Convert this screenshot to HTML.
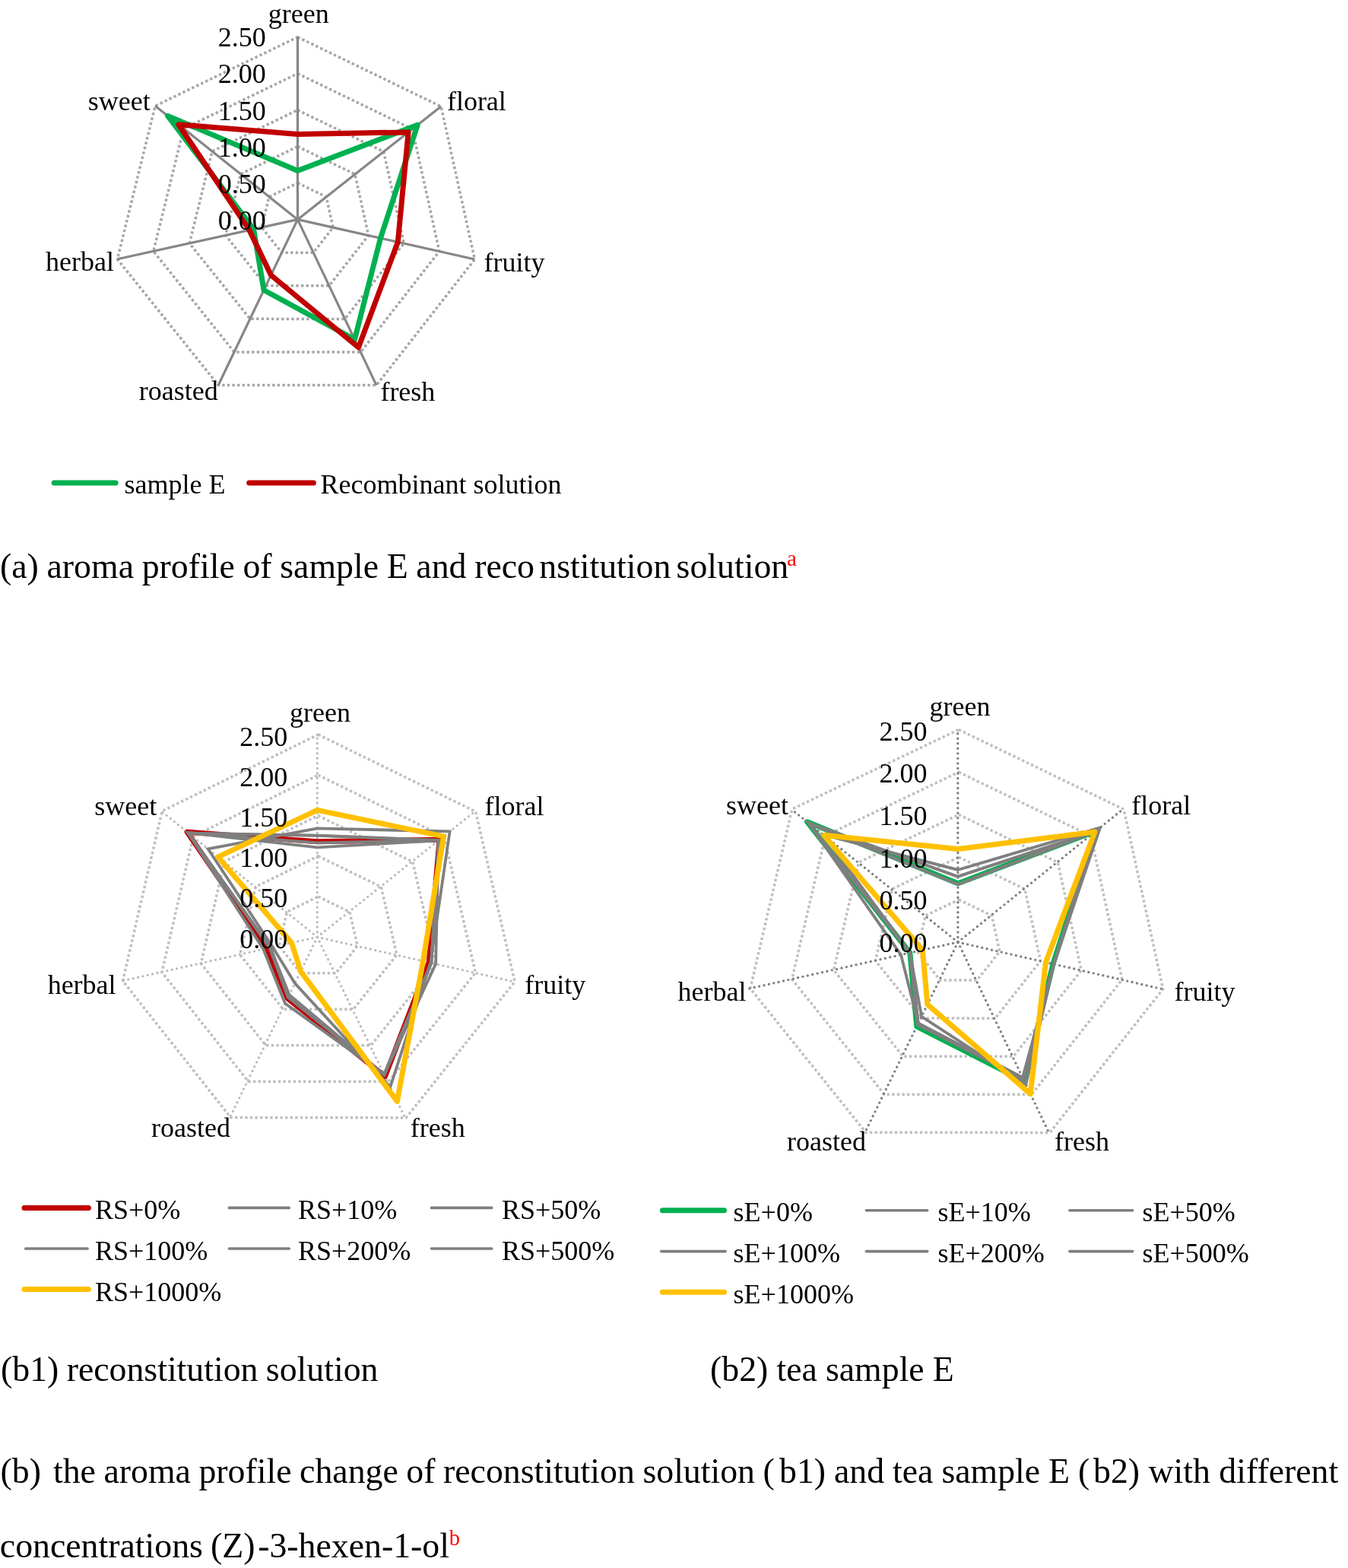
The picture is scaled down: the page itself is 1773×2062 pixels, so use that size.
<!DOCTYPE html>
<html lang="en">
<head>
<meta charset="utf-8">
<title>Aroma profile radar charts</title>
<style>
html,body{margin:0;padding:0;background:#fff;}
body{width:1773px;height:2062px;overflow:hidden;}
svg{display:block;}
svg text{font-family:"Liberation Serif", "Times New Roman", serif;fill:#000;}
</style>
</head>
<body>
<svg width="1773" height="2062" viewBox="0 0 1773 2062">
<rect x="0" y="0" width="1773" height="2062" fill="#ffffff"/>
<g id="chart-a"><polygon points="391.46,240.67 429.19,258.91 438.05,299.11 412.19,332.23 370.60,332.21 344.05,299.07 353.99,258.77" fill="none" stroke="#A6A6A6" stroke-width="3.5" stroke-dasharray="3.4 3.2" stroke-linejoin="miter"/>
<polygon points="391.46,192.70 466.92,229.18 484.64,309.58 432.92,375.82 349.74,375.78 296.64,309.50 316.52,228.90" fill="none" stroke="#A6A6A6" stroke-width="3.5" stroke-dasharray="3.4 3.2" stroke-linejoin="miter"/>
<polygon points="391.46,144.74 504.64,199.46 531.22,320.06 453.64,419.42 328.87,419.36 249.22,319.94 279.04,199.04" fill="none" stroke="#A6A6A6" stroke-width="3.5" stroke-dasharray="3.4 3.2" stroke-linejoin="miter"/>
<polygon points="391.46,96.77 542.37,169.73 577.81,330.53 474.37,463.01 308.01,462.93 201.81,330.37 241.57,169.17" fill="none" stroke="#A6A6A6" stroke-width="3.5" stroke-dasharray="3.4 3.2" stroke-linejoin="miter"/>
<polygon points="391.46,48.80 580.10,140.00 624.40,341.00 495.10,506.60 287.15,506.50 154.40,340.80 204.10,139.30" fill="none" stroke="#A6A6A6" stroke-width="3.5" stroke-dasharray="3.4 3.2" stroke-linejoin="miter"/>
<line x1="391.46" y1="288.64" x2="391.46" y2="48.80" stroke="#868686" stroke-width="3.2"/>
<line x1="391.46" y1="288.64" x2="580.10" y2="140.00" stroke="#868686" stroke-width="3.2"/>
<line x1="391.46" y1="288.64" x2="624.40" y2="341.00" stroke="#868686" stroke-width="3.2"/>
<line x1="391.46" y1="288.64" x2="495.10" y2="506.60" stroke="#868686" stroke-width="3.2"/>
<line x1="391.46" y1="288.64" x2="287.15" y2="506.50" stroke="#868686" stroke-width="3.2"/>
<line x1="391.46" y1="288.64" x2="154.40" y2="340.80" stroke="#868686" stroke-width="3.2"/>
<line x1="391.46" y1="288.64" x2="204.10" y2="139.30" stroke="#868686" stroke-width="3.2"/>
<polygon points="391.46,224.55 549.16,164.38 500.48,313.14 466.50,446.44 347.02,381.45 333.62,301.37 220.59,152.44" fill="none" stroke="#00B050" stroke-width="7" stroke-linejoin="round" stroke-miterlimit="6"/>
<polygon points="391.46,176.39 537.09,173.89 523.30,318.28 471.47,456.91 356.41,361.84 327.93,302.62 234.83,163.79" fill="none" stroke="#C00000" stroke-width="7" stroke-linejoin="round" stroke-miterlimit="6"/>
<text x="349.70" y="301.80" font-size="36" text-anchor="end">0.00</text>
<text x="349.70" y="253.70" font-size="36" text-anchor="end">0.50</text>
<text x="349.70" y="205.60" font-size="36" text-anchor="end">1.00</text>
<text x="349.70" y="157.50" font-size="36" text-anchor="end">1.50</text>
<text x="349.70" y="109.40" font-size="36" text-anchor="end">2.00</text>
<text x="349.70" y="61.30" font-size="36" text-anchor="end">2.50</text>
<text x="392.70" y="29.60" font-size="36" text-anchor="middle">green</text>
<text x="587.90" y="144.90" font-size="36" text-anchor="start">floral</text>
<text x="636.60" y="356.50" font-size="36" text-anchor="start">fruity</text>
<text x="500.40" y="526.70" font-size="36" text-anchor="start">fresh</text>
<text x="286.70" y="526.30" font-size="36" text-anchor="end">roasted</text>
<text x="149.90" y="355.70" font-size="36" text-anchor="end">herbal</text>
<text x="197.70" y="145.20" font-size="36" text-anchor="end">sweet</text><line x1="71.20" y1="635.00" x2="152.10" y2="635.00" stroke="#00B050" stroke-width="7" stroke-linecap="round"/>
<text x="163.50" y="648.70" font-size="36">sample E</text>
<line x1="327.70" y1="635.00" x2="412.40" y2="635.00" stroke="#C00000" stroke-width="7" stroke-linecap="round"/>
<text x="421.60" y="648.70" font-size="36">Recombinant solution</text></g>
<g id="chart-b1"><polygon points="418.50,1179.04 459.92,1199.30 470.22,1244.04 441.62,1279.82 395.50,1279.76 367.10,1243.84 377.44,1199.16" fill="none" stroke="#BFBFBF" stroke-width="3.5" stroke-dasharray="3.4 3.2" stroke-linejoin="miter"/>
<polygon points="418.50,1125.78 501.34,1166.30 521.94,1255.78 464.74,1327.34 372.50,1327.22 315.70,1255.38 336.38,1166.02" fill="none" stroke="#BFBFBF" stroke-width="3.5" stroke-dasharray="3.4 3.2" stroke-linejoin="miter"/>
<polygon points="418.50,1072.52 542.76,1133.30 573.66,1267.52 487.86,1374.86 349.50,1374.68 264.30,1266.92 295.32,1132.88" fill="none" stroke="#BFBFBF" stroke-width="3.5" stroke-dasharray="3.4 3.2" stroke-linejoin="miter"/>
<polygon points="418.50,1019.26 584.18,1100.30 625.38,1279.26 510.98,1422.38 326.50,1422.14 212.90,1278.46 254.26,1099.74" fill="none" stroke="#BFBFBF" stroke-width="3.5" stroke-dasharray="3.4 3.2" stroke-linejoin="miter"/>
<polygon points="418.50,966.00 625.60,1067.30 677.10,1291.00 534.10,1469.90 303.50,1469.60 161.50,1290.00 213.20,1066.60" fill="none" stroke="#BFBFBF" stroke-width="3.5" stroke-dasharray="3.4 3.2" stroke-linejoin="miter"/>
<line x1="417.30" y1="1232.30" x2="417.30" y2="966.00" stroke="#BABABA" stroke-width="3.3" stroke-dasharray="0 6.53" stroke-linecap="round"/>
<line x1="417.30" y1="1232.30" x2="624.40" y2="1067.30" stroke="#BABABA" stroke-width="3.3" stroke-dasharray="0 6.53" stroke-linecap="round"/>
<line x1="417.30" y1="1232.30" x2="675.90" y2="1291.00" stroke="#BABABA" stroke-width="3.3" stroke-dasharray="0 6.53" stroke-linecap="round"/>
<line x1="417.30" y1="1232.30" x2="532.90" y2="1469.90" stroke="#BABABA" stroke-width="3.3" stroke-dasharray="0 6.53" stroke-linecap="round"/>
<line x1="417.30" y1="1232.30" x2="302.30" y2="1469.60" stroke="#BABABA" stroke-width="3.3" stroke-dasharray="0 6.53" stroke-linecap="round"/>
<line x1="417.30" y1="1232.30" x2="160.30" y2="1290.00" stroke="#BABABA" stroke-width="3.3" stroke-dasharray="0 6.53" stroke-linecap="round"/>
<line x1="417.30" y1="1232.30" x2="212.00" y2="1066.60" stroke="#BABABA" stroke-width="3.3" stroke-dasharray="0 6.53" stroke-linecap="round"/>
<polygon points="417.30,1106.82 578.01,1104.26 564.18,1265.64 506.45,1415.54 378.20,1312.98 350.99,1247.19 246.08,1094.11" fill="none" stroke="#C00000" stroke-width="7" stroke-linejoin="round" stroke-miterlimit="6"/>
<polygon points="417.30,1098.83 576.77,1105.25 567.29,1266.35 505.39,1413.35 380.50,1308.24 355.62,1246.15 247.72,1095.43" fill="none" stroke="#7F7F7F" stroke-width="3.8" stroke-linejoin="miter" stroke-miterlimit="6"/>
<polygon points="417.30,1108.31 577.18,1104.92 567.29,1266.35 505.62,1413.83 378.89,1311.56 354.59,1246.38 247.31,1095.10" fill="none" stroke="#7F7F7F" stroke-width="3.8" stroke-linejoin="miter" stroke-miterlimit="6"/>
<polygon points="417.30,1114.38 576.77,1105.25 573.08,1267.66 505.39,1413.35 374.98,1319.63 346.37,1248.23 247.31,1095.10" fill="none" stroke="#7F7F7F" stroke-width="3.8" stroke-linejoin="miter" stroke-miterlimit="6"/>
<polygon points="417.30,1098.62 577.18,1104.92 567.29,1266.35 505.16,1412.88 379.58,1310.13 355.62,1246.15 248.13,1095.76" fill="none" stroke="#7F7F7F" stroke-width="3.8" stroke-linejoin="miter" stroke-miterlimit="6"/>
<polygon points="417.30,1089.35 591.60,1093.44 566.25,1266.11 513.25,1429.51 387.86,1293.05 358.70,1245.46 273.59,1116.31" fill="none" stroke="#7F7F7F" stroke-width="3.8" stroke-linejoin="miter" stroke-miterlimit="6"/>
<polygon points="417.30,1065.38 583.48,1099.90 556.43,1263.88 522.40,1448.33 395.45,1277.39 383.58,1239.87 286.73,1126.91" fill="none" stroke="#FFC000" stroke-width="7" stroke-linejoin="round" stroke-miterlimit="6"/>
<text x="378.30" y="1247.00" font-size="36" text-anchor="end">0.00</text>
<text x="378.30" y="1193.40" font-size="36" text-anchor="end">0.50</text>
<text x="378.30" y="1139.90" font-size="36" text-anchor="end">1.00</text>
<text x="378.30" y="1086.50" font-size="36" text-anchor="end">1.50</text>
<text x="378.30" y="1033.90" font-size="36" text-anchor="end">2.00</text>
<text x="378.30" y="981.30" font-size="36" text-anchor="end">2.50</text>
<text x="421.10" y="949.40" font-size="36" text-anchor="middle">green</text>
<text x="637.60" y="1071.60" font-size="36" text-anchor="start">floral</text>
<text x="690.30" y="1306.50" font-size="36" text-anchor="start">fruity</text>
<text x="539.70" y="1494.50" font-size="36" text-anchor="start">fresh</text>
<text x="303.00" y="1494.50" font-size="36" text-anchor="end">roasted</text>
<text x="152.60" y="1306.50" font-size="36" text-anchor="end">herbal</text>
<text x="206.20" y="1072.30" font-size="36" text-anchor="end">sweet</text><line x1="32.00" y1="1588.40" x2="116.40" y2="1588.40" stroke="#C00000" stroke-width="7" stroke-linecap="round"/>
<text x="125.00" y="1603.10" font-size="36">RS+0%</text>
<line x1="301.40" y1="1588.40" x2="380.30" y2="1588.40" stroke="#7F7F7F" stroke-width="3.6" stroke-linecap="round"/>
<text x="392.00" y="1603.10" font-size="36">RS+10%</text>
<line x1="567.50" y1="1588.40" x2="646.80" y2="1588.40" stroke="#7F7F7F" stroke-width="3.6" stroke-linecap="round"/>
<text x="660.00" y="1603.10" font-size="36">RS+50%</text>
<line x1="33.70" y1="1642.00" x2="115.10" y2="1642.00" stroke="#7F7F7F" stroke-width="3.6" stroke-linecap="round"/>
<text x="125.00" y="1657.10" font-size="36">RS+100%</text>
<line x1="301.40" y1="1642.00" x2="380.30" y2="1642.00" stroke="#7F7F7F" stroke-width="3.6" stroke-linecap="round"/>
<text x="392.00" y="1657.10" font-size="36">RS+200%</text>
<line x1="567.50" y1="1642.00" x2="646.80" y2="1642.00" stroke="#7F7F7F" stroke-width="3.6" stroke-linecap="round"/>
<text x="660.00" y="1657.10" font-size="36">RS+500%</text>
<line x1="32.00" y1="1695.60" x2="116.40" y2="1695.60" stroke="#FFC000" stroke-width="7" stroke-linecap="round"/>
<text x="125.00" y="1711.00" font-size="36">RS+1000%</text></g>
<g id="chart-b2"><polygon points="1261.11,1183.08 1304.54,1204.04 1314.86,1251.30 1285.08,1289.06 1236.68,1289.04 1206.28,1251.18 1217.28,1203.98" fill="none" stroke="#BFBFBF" stroke-width="3.5" stroke-dasharray="3.4 3.2" stroke-linejoin="miter"/>
<polygon points="1261.07,1127.18 1347.93,1169.10 1368.57,1263.62 1309.01,1339.14 1212.21,1339.10 1151.41,1263.38 1173.41,1168.98" fill="none" stroke="#BFBFBF" stroke-width="3.5" stroke-dasharray="3.4 3.2" stroke-linejoin="miter"/>
<polygon points="1261.04,1071.29 1391.32,1134.17 1422.28,1275.95 1332.94,1389.23 1187.74,1389.17 1096.54,1275.59 1129.54,1133.99" fill="none" stroke="#BFBFBF" stroke-width="3.5" stroke-dasharray="3.4 3.2" stroke-linejoin="miter"/>
<polygon points="1261.00,1015.39 1434.71,1099.23 1475.99,1288.27 1356.87,1439.31 1163.27,1439.23 1041.67,1287.79 1085.67,1098.99" fill="none" stroke="#BFBFBF" stroke-width="3.5" stroke-dasharray="3.4 3.2" stroke-linejoin="miter"/>
<polygon points="1260.96,959.50 1478.10,1064.30 1529.70,1300.60 1380.80,1489.40 1138.80,1489.30 986.80,1300.00 1041.80,1064.00" fill="none" stroke="#BFBFBF" stroke-width="3.5" stroke-dasharray="3.4 3.2" stroke-linejoin="miter"/>
<line x1="1259.95" y1="1238.97" x2="1259.76" y2="959.50" stroke="#7F7F7F" stroke-width="3.4" stroke-dasharray="0 6.53" stroke-linecap="round"/>
<line x1="1259.95" y1="1238.97" x2="1476.90" y2="1064.30" stroke="#7F7F7F" stroke-width="3.4" stroke-dasharray="0 6.53" stroke-linecap="round"/>
<line x1="1259.95" y1="1238.97" x2="1528.50" y2="1300.60" stroke="#7F7F7F" stroke-width="3.4" stroke-dasharray="0 6.53" stroke-linecap="round"/>
<line x1="1259.95" y1="1238.97" x2="1379.60" y2="1489.40" stroke="#7F7F7F" stroke-width="3.4" stroke-dasharray="0 6.53" stroke-linecap="round"/>
<line x1="1259.95" y1="1238.97" x2="1137.60" y2="1489.30" stroke="#7F7F7F" stroke-width="3.4" stroke-dasharray="0 6.53" stroke-linecap="round"/>
<line x1="1259.95" y1="1238.97" x2="985.60" y2="1300.00" stroke="#7F7F7F" stroke-width="3.4" stroke-dasharray="0 6.53" stroke-linecap="round"/>
<line x1="1259.95" y1="1238.97" x2="1040.60" y2="1064.00" stroke="#7F7F7F" stroke-width="3.4" stroke-dasharray="0 6.53" stroke-linecap="round"/>
<polygon points="1259.90,1161.84 1441.32,1092.95 1384.99,1267.66 1347.49,1422.18 1205.77,1349.82 1196.85,1253.01 1061.66,1080.80" fill="none" stroke="#00B050" stroke-width="7" stroke-linejoin="round" stroke-miterlimit="6"/>
<polygon points="1259.90,1162.95 1440.45,1093.64 1386.06,1267.91 1346.10,1419.28 1207.73,1345.81 1185.00,1255.64 1063.85,1082.55" fill="none" stroke="#7F7F7F" stroke-width="3.8" stroke-linejoin="miter" stroke-miterlimit="6"/>
<polygon points="1259.89,1152.67 1441.32,1092.95 1386.06,1267.91 1345.14,1417.28 1207.73,1345.81 1196.85,1253.01 1063.85,1082.55" fill="none" stroke="#7F7F7F" stroke-width="3.8" stroke-linejoin="miter" stroke-miterlimit="6"/>
<polygon points="1259.89,1143.95 1446.96,1088.40 1386.06,1267.91 1349.35,1426.09 1212.14,1336.80 1196.85,1253.01 1082.72,1097.59" fill="none" stroke="#7F7F7F" stroke-width="3.8" stroke-linejoin="miter" stroke-miterlimit="6"/>
<polygon points="1259.90,1162.95 1440.89,1093.30 1386.06,1267.91 1346.10,1419.28 1206.85,1347.61 1196.85,1253.01 1063.85,1082.55" fill="none" stroke="#7F7F7F" stroke-width="3.8" stroke-linejoin="miter" stroke-miterlimit="6"/>
<polygon points="1259.89,1152.67 1440.89,1093.30 1386.06,1267.91 1345.14,1417.28 1207.73,1345.81 1196.85,1253.01 1063.85,1082.55" fill="none" stroke="#7F7F7F" stroke-width="3.8" stroke-linejoin="miter" stroke-miterlimit="6"/>
<polygon points="1259.87,1116.56 1440.02,1093.99 1375.43,1265.47 1355.29,1438.51 1219.87,1320.98 1213.42,1249.32 1083.59,1098.29" fill="none" stroke="#FFC000" stroke-width="7" stroke-linejoin="round" stroke-miterlimit="6"/>
<text x="1219.50" y="1251.70" font-size="36" text-anchor="end">0.00</text>
<text x="1219.50" y="1196.10" font-size="36" text-anchor="end">0.50</text>
<text x="1219.50" y="1140.50" font-size="36" text-anchor="end">1.00</text>
<text x="1219.50" y="1084.90" font-size="36" text-anchor="end">1.50</text>
<text x="1219.50" y="1029.30" font-size="36" text-anchor="end">2.00</text>
<text x="1219.50" y="973.70" font-size="36" text-anchor="end">2.50</text>
<text x="1262.60" y="940.70" font-size="36" text-anchor="middle">green</text>
<text x="1488.30" y="1071.20" font-size="36" text-anchor="start">floral</text>
<text x="1544.60" y="1315.70" font-size="36" text-anchor="start">fruity</text>
<text x="1387.00" y="1513.00" font-size="36" text-anchor="start">fresh</text>
<text x="1138.90" y="1512.60" font-size="36" text-anchor="end">roasted</text>
<text x="981.40" y="1315.90" font-size="36" text-anchor="end">herbal</text>
<text x="1037.00" y="1071.40" font-size="36" text-anchor="end">sweet</text><line x1="871.40" y1="1591.80" x2="952.50" y2="1591.80" stroke="#00B050" stroke-width="7" stroke-linecap="round"/>
<text x="964.60" y="1606.00" font-size="36">sE+0%</text>
<line x1="1139.40" y1="1591.80" x2="1219.70" y2="1591.80" stroke="#7F7F7F" stroke-width="3.6" stroke-linecap="round"/>
<text x="1233.50" y="1606.00" font-size="36">sE+10%</text>
<line x1="1406.90" y1="1591.80" x2="1489.60" y2="1591.80" stroke="#7F7F7F" stroke-width="3.6" stroke-linecap="round"/>
<text x="1502.50" y="1606.00" font-size="36">sE+50%</text>
<line x1="869.70" y1="1645.60" x2="954.20" y2="1645.60" stroke="#7F7F7F" stroke-width="3.6" stroke-linecap="round"/>
<text x="964.60" y="1659.80" font-size="36">sE+100%</text>
<line x1="1139.40" y1="1645.60" x2="1219.70" y2="1645.60" stroke="#7F7F7F" stroke-width="3.6" stroke-linecap="round"/>
<text x="1233.50" y="1659.80" font-size="36">sE+200%</text>
<line x1="1406.90" y1="1645.60" x2="1489.60" y2="1645.60" stroke="#7F7F7F" stroke-width="3.6" stroke-linecap="round"/>
<text x="1502.50" y="1659.80" font-size="36">sE+500%</text>
<line x1="871.40" y1="1699.20" x2="952.50" y2="1699.20" stroke="#FFC000" stroke-width="7" stroke-linecap="round"/>
<text x="964.60" y="1713.70" font-size="36">sE+1000%</text></g>
<g id="captions">
<text x="0" y="759.7" font-size="45.8" style="word-spacing:-0.75px">(a) aroma profile of sample E and reco<tspan x="709.3">nstitution </tspan><tspan x="889.6">solution</tspan><tspan dx="-2.2" dy="-16" font-size="29" fill="#FF0000">a</tspan></text>
<text x="1" y="1815.8" font-size="45.8" style="word-spacing:-1.1px">(b1) reconstitution solution</text>
<text x="934" y="1815.8" font-size="45.8" style="word-spacing:-0.3px">(b2) tea sample E</text>
<text x="0.5" y="1949.8" font-size="45.8">(b) <tspan x="70" style="word-spacing:-0.9px">the aroma profile change of reconstitution solution (</tspan><tspan x="1025" style="word-spacing:-0.5px">b1) and tea sample E (</tspan><tspan x="1438">b2) with different</tspan></text>
<text x="-0.2" y="2048.4" font-size="45.8" style="word-spacing:-1.3px">concentrations (Z)<tspan dx="3.7">-3-hexen-1-ol</tspan><tspan dx="-0.3" dy="-16.3" font-size="28.5" fill="#FF0000">b</tspan></text>
</g>
</svg>
</body>
</html>
